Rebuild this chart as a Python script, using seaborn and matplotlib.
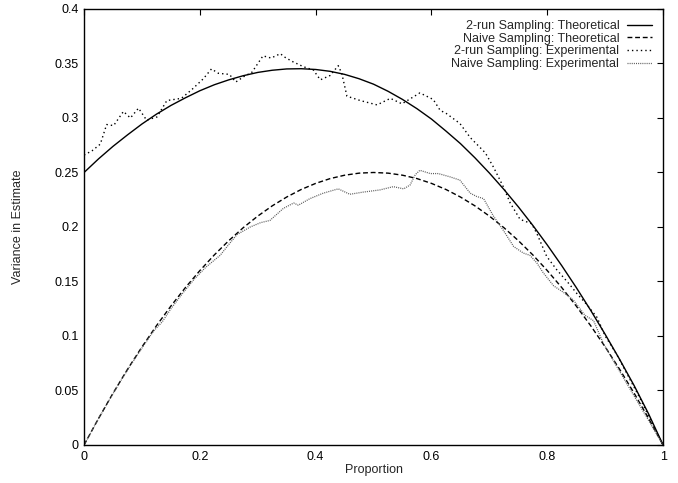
import numpy as np
import pandas as pd
import matplotlib
matplotlib.use("Agg")
import matplotlib.pyplot as plt
import seaborn as sns

# ---- data ----
theo_p = [0.000, 0.025, 0.050, 0.075, 0.100, 0.125, 0.150, 0.175, 0.200, 0.225,
          0.250, 0.275, 0.300, 0.325, 0.350, 0.375, 0.400, 0.425, 0.450, 0.475,
          0.500, 0.525, 0.550, 0.575, 0.600, 0.625, 0.650, 0.675, 0.700, 0.725,
          0.750, 0.775, 0.800, 0.825, 0.850, 0.875, 0.900, 0.925, 0.950, 0.975, 1.000]
tworun_theo = [0.250, 0.2625, 0.274, 0.2845, 0.2945, 0.3035, 0.3115, 0.3185, 0.325, 0.3305,
               0.335, 0.3388, 0.3418, 0.3438, 0.345, 0.3452, 0.3445, 0.3428, 0.340, 0.336,
               0.331, 0.3245, 0.317, 0.3085, 0.299, 0.288, 0.2765, 0.2635, 0.2495, 0.2345,
               0.2185, 0.2015, 0.1835, 0.1645, 0.1445, 0.1235, 0.1015, 0.0785, 0.0545, 0.0285, 0.000]
naive_theo = [0.0, 0.0244, 0.0475, 0.0694, 0.09, 0.1094, 0.1275, 0.1444, 0.16, 0.1744,
              0.1875, 0.1994, 0.21, 0.2194, 0.2275, 0.2344, 0.24, 0.2444, 0.2475, 0.2494,
              0.25, 0.2494, 0.2475, 0.2444, 0.24, 0.2344, 0.2275, 0.2194, 0.21, 0.1994,
              0.1875, 0.1744, 0.16, 0.1444, 0.1275, 0.1094, 0.09, 0.0694, 0.0475, 0.0244, 0.0]

tworun_exp_p = [0.000, 0.014, 0.028, 0.039, 0.051, 0.068, 0.080, 0.094, 0.108, 0.126,
                0.143, 0.168, 0.186, 0.206, 0.220, 0.232, 0.251, 0.262, 0.276, 0.290,
                0.309, 0.323, 0.339, 0.346, 0.359, 0.379, 0.396, 0.408, 0.425, 0.439,
                0.445, 0.454, 0.477, 0.506, 0.529, 0.549, 0.580, 0.603, 0.615, 0.626,
                0.649, 0.667, 0.693, 0.707, 0.724, 0.736, 0.753, 0.773, 0.782, 0.799,
                0.816, 0.839, 0.851, 0.868, 0.886, 0.900, 0.920, 0.940, 0.960, 0.980, 1.000]
tworun_exp = [0.266, 0.270, 0.276, 0.294, 0.293, 0.306, 0.300, 0.309, 0.298, 0.301,
              0.316, 0.318, 0.326, 0.336, 0.345, 0.341, 0.340, 0.333, 0.338, 0.342,
              0.357, 0.355, 0.359, 0.356, 0.352, 0.347, 0.344, 0.335, 0.339, 0.348,
              0.341, 0.320, 0.316, 0.312, 0.318, 0.313, 0.323, 0.317, 0.307, 0.304,
              0.295, 0.282, 0.268, 0.255, 0.237, 0.222, 0.207, 0.203, 0.194, 0.173,
              0.161, 0.147, 0.139, 0.129, 0.117, 0.100, 0.083, 0.063, 0.043, 0.021, 0.000]

naive_exp_p = [0.00, 0.02, 0.04, 0.06, 0.08, 0.10, 0.12, 0.135, 0.15, 0.17,
               0.19, 0.21, 0.235, 0.250, 0.264, 0.287, 0.305, 0.321, 0.344, 0.362,
               0.370, 0.390, 0.413, 0.439, 0.459, 0.482, 0.511, 0.534, 0.552, 0.563,
               0.572, 0.580, 0.598, 0.612, 0.632, 0.649, 0.667, 0.678, 0.690, 0.707,
               0.724, 0.742, 0.759, 0.770, 0.782, 0.793, 0.811, 0.828, 0.845, 0.865,
               0.880, 0.897, 0.920, 0.940, 0.960, 0.980, 1.000]
naive_exp = [0.000, 0.0195, 0.038, 0.056, 0.073, 0.089, 0.1045, 0.113, 0.125, 0.139,
             0.152, 0.163, 0.174, 0.184, 0.193, 0.200, 0.204, 0.206, 0.217, 0.222,
             0.220, 0.226, 0.231, 0.235, 0.230, 0.232, 0.234, 0.237, 0.235, 0.2385,
             0.248, 0.252, 0.249, 0.249, 0.246, 0.243, 0.231, 0.228, 0.226, 0.210,
             0.197, 0.182, 0.176, 0.174, 0.167, 0.158, 0.146, 0.140, 0.133, 0.119,
             0.114, 0.093, 0.072, 0.054, 0.036, 0.018, 0.000]

labels = ["2-run Sampling: Theoretical", "Naive Sampling: Theoretical",
          "2-run Sampling: Experimental", "Naive Sampling: Experimental"]
x_ticks = [0, 0.2, 0.4, 0.6, 0.8, 1]
x_tick_labels = ["0", "0.2", "0.4", "0.6", "0.8", "1"]
y_ticks = [0, 0.05, 0.1, 0.15, 0.2, 0.25, 0.3, 0.35, 0.4]
y_tick_labels = ["0", "0.05", "0.1", "0.15", "0.2", "0.25", "0.3", "0.35", "0.4"]

# ---- plot ----
sns.set_style("white")
plt.rcParams['font.family'] = ['Liberation Sans', 'DejaVu Sans']

fig = plt.figure(figsize=(6.78, 4.83), dpi=100)
ax = fig.add_axes([0.124, 0.0787, 0.854, 0.9027])

sns.lineplot(x=theo_p, y=tworun_theo, ax=ax, color="black", linewidth=1.0,
             linestyle="-", label=labels[0])
sns.lineplot(x=theo_p, y=naive_theo, ax=ax, color="black", linewidth=1.0,
             label=labels[1]).lines[-1].set_dashes((3.5, 2))
l3 = sns.lineplot(x=tworun_exp_p, y=tworun_exp, ax=ax, color="black", linewidth=1.0,
                  label=labels[2]).lines[-1]
l3.set_dashes((1, 2.2))
l4 = sns.lineplot(x=naive_exp_p, y=naive_exp, ax=ax, color="0.35", linewidth=0.9,
                  label=labels[3]).lines[-1]
l4.set_dashes((0.8, 0.9))

ax.set_xlim(0, 1)
ax.set_ylim(0, 0.4)
ax.set_xticks(x_ticks)
ax.set_xticklabels(x_tick_labels)
ax.set_yticks(y_ticks)
ax.set_yticklabels(y_tick_labels)
ax.tick_params(direction="in", length=4, width=0.8, top=True, right=True,
               labelsize=9, colors="black", pad=4)
for s in ax.spines.values():
    s.set_visible(True)
    s.set_color("black")
    s.set_linewidth(1.0)

ax.set_xlabel("Proportion", fontsize=9, labelpad=1)
ax.set_ylabel("Variance in Estimate", fontsize=9, labelpad=22)

leg = ax.legend(loc="upper right", frameon=False, fontsize=9, markerfirst=False,
                handlelength=2.0, labelspacing=0.05, handletextpad=0.6,
                borderaxespad=0.5)
for t in leg.get_texts():
    t.set_ha("right")
leg._legend_box.align = "right"

fig.savefig("out.png", dpi=100)
